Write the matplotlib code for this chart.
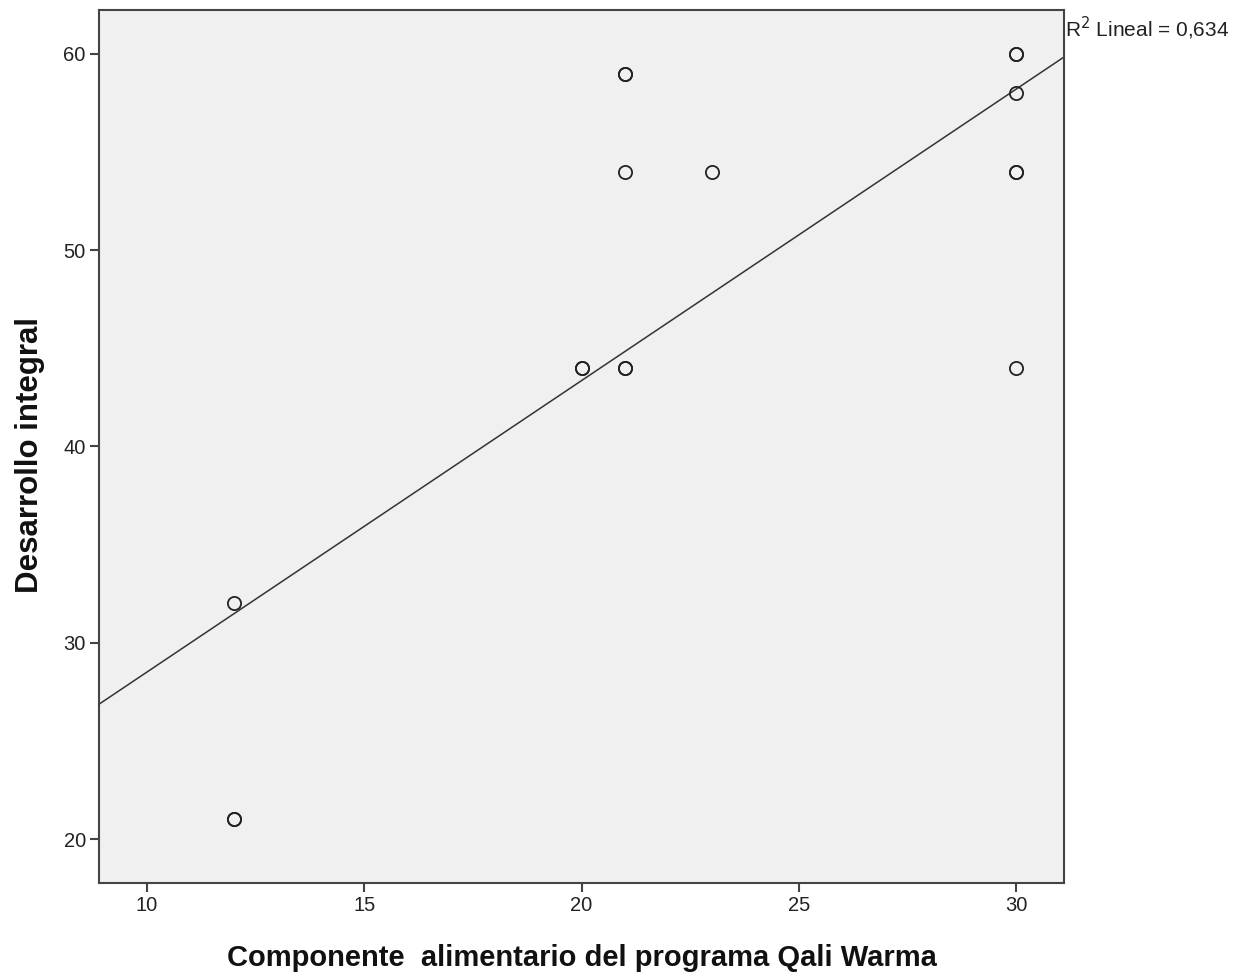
import matplotlib.pyplot as plt
import numpy as np

# puntos observados (x, y) y cuantas veces se repite cada uno
comp_x = [12, 12, 20, 21, 21, 21, 23, 30, 30, 30, 30]
des_y = [32, 21, 44, 44, 54, 59, 54, 60, 58, 54, 44]
repeats = [1, 2, 2, 2, 1, 2, 1, 2, 1, 2, 1]

# recta de ajuste
intercept = 13.66
slope = 1.485
r2_text = "R$^2$ Lineal = 0,634"

x_ticks = [10, 15, 20, 25, 30]
y_ticks = [20, 30, 40, 50, 60]

plt.rcParams['font.family'] = ['Liberation Sans', 'DejaVu Sans']

fig = plt.figure(figsize=(12.44, 9.8), dpi=100)
ax = fig.add_axes([0.0796, 0.099, 0.7757, 0.8908])
ax.set_facecolor('#F0F0F0')

for x, y, n in zip(comp_x, des_y, repeats):
	for k in range(n):
		ax.plot([x], [y], 'o', markersize=9.5, markerfacecolor='none',
			markeredgecolor='#222222', markeredgewidth=1.3, zorder=3)

xmin, xmax = 8.895, 31.1
xs = np.array([xmin, xmax])
ax.plot(xs, intercept + slope * xs, color='#333333', linewidth=1.1, zorder=2)

ax.set_xlim(xmin, xmax)
ax.set_ylim(17.76, 62.24)
ax.set_xticks(x_ticks)
ax.set_yticks(y_ticks)
ax.tick_params(direction='out', length=6.5, width=1.5, color='#444444',
	labelsize=14.5, labelcolor='#222222', pad=3)

for s in ax.spines.values():
	s.set_color('#444444')
	s.set_linewidth(1.5)

ax.set_xlabel('Componente  alimentario del programa Qali Warma', fontsize=21,
	fontweight='bold', va='center', color='#111111')
ax.xaxis.set_label_coords(0.5005, -0.086)
ax.set_ylabel('Desarrollo integral', fontsize=22.5, fontweight='bold',
	va='center', color='#111111')
ax.yaxis.set_label_coords(-0.0715, 0.49)

ax.text(1.0015, 0.979, r2_text, transform=ax.transAxes, fontsize=15,
	ha='left', va='center', color='#222222')

plt.savefig('out.png', dpi=100)
